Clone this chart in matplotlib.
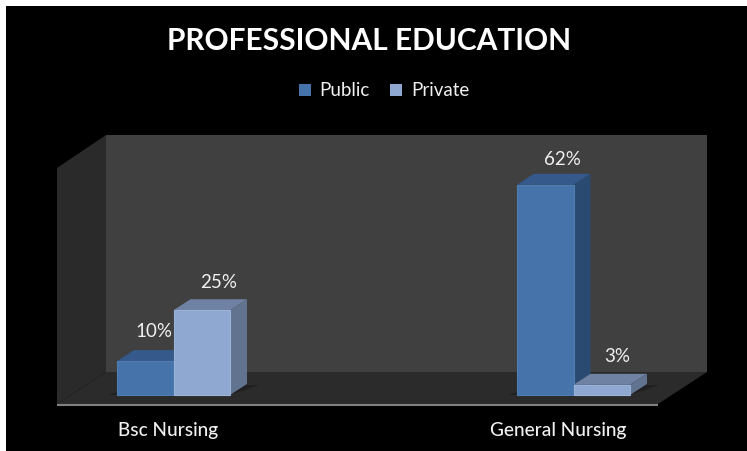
import matplotlib
matplotlib.use("Agg")
import matplotlib.pyplot as plt
from matplotlib.patches import Polygon, Patch

categories = ["Bsc Nursing", "General Nursing"]
public = [10, 62]
private = [25, 3]
series_names = ["Public", "Private"]
title = "PROFESSIONAL EDUCATION"

W, H = 747, 451
plt.rcParams['font.family'] = ['Lato', 'DejaVu Sans']
fig = plt.figure(figsize=(W/100, H/100), dpi=100, facecolor='white')

bg = fig.add_axes([0, 0, 1, 1])
bg.set_xlim(0, W); bg.set_ylim(H, 0); bg.axis('off')
bg.add_patch(plt.Rectangle((6, 6), W-6, H-6, fc='black', ec='none'))
bg.add_patch(Polygon([(106, 135), (707, 135), (707, 372), (106, 372)], fc='#404040', ec='none'))
bg.add_patch(Polygon([(57, 168), (106, 135), (106, 372), (57, 404)], fc='#2a2a2a', ec='none'))
bg.add_patch(Polygon([(57, 404), (106, 372), (707, 372), (658, 404)], fc='#2b2b2b', ec='none'))
bg.plot([57, 658], [404.5, 404.5], color='#808080', lw=1.5, solid_capstyle='butt')

x0_px, x1_px = 57, 658
ytop_px, ybot_px = 135, 404
px_per_unit = 400.0
px_per_pct = 3.39
ax = fig.add_axes([x0_px/W, 1-ybot_px/H, (x1_px-x0_px)/W, (ybot_px-ytop_px)/H])
ax.patch.set_alpha(0)
ax.set_xlim((x0_px-173.5)/px_per_unit, (x1_px-173.5)/px_per_unit)
ax.set_ylim((395-ybot_px)/px_per_pct, (395-ytop_px)/px_per_pct)
ax.axis('off')

bw = 56.5/px_per_unit
dx = 17/px_per_unit
dy = 11/px_per_pct
styles = [dict(front='#4674aa', top='#35598a', side='#2b4a72', edge='#4f7db3'),
          dict(front='#8fa8d2', top='#6f82a3', side='#627390', edge='#9ab1d8')]
# label offsets from the top centre of each bar, in pixels
label_offsets = [[(9, 24), (17, 20)], [(17, 22), (15, 23)]]

for k, vals in enumerate([public, private]):
    for i, v in enumerate(vals):
        xl = i - bw if k == 0 else i
        xr = xl + bw
        ax.add_patch(Polygon([(xl-0.02, 0), (xr, 0), (xr+dx+0.03, dy*0.9), (xl+dx, dy*0.9)],
                             fc='#202020', ec='none', zorder=1))
for k, vals in enumerate([public, private]):
    st = styles[k]
    for i, v in enumerate(vals):
        xl = i - bw if k == 0 else i
        xr = xl + bw
        ax.add_patch(Polygon([(xl, v), (xr, v), (xr+dx, v+dy), (xl+dx, v+dy)],
                             fc=st['top'], ec='none', zorder=2+k))
        ax.add_patch(Polygon([(xr, 0), (xr+dx, dy), (xr+dx, v+dy), (xr, v)],
                             fc=st['side'], ec='none', zorder=2+k))
        ax.bar(xl, v, width=bw, align='edge', color=st['front'], edgecolor=st['edge'],
               linewidth=0.8, zorder=3+k)
        lx, ly = label_offsets[k][i]
        ax.annotate(f"{v}%", xy=(xl + bw/2, v), xytext=(lx, ly), textcoords='offset pixels',
                    ha='center', va='baseline', color='#f0f0f0', fontsize=13.5, zorder=6,
                    annotation_clip=False)

label_off = [-5, -15.5]
for i, c in enumerate(categories):
    ax.annotate(c, xy=(i, 0), xytext=(label_off[i], -41), textcoords='offset pixels',
                ha='center', va='baseline', color='#f0f0f0', fontsize=13.7, fontweight='medium',
                annotation_clip=False)

fig.text(369/W, 1-41/H, title, ha='center', va='center', color='white',
         fontsize=21.5, fontweight='bold')

handles = [Patch(fc=styles[0]['front'], ec='none', label=series_names[0]),
           Patch(fc=styles[1]['front'], ec='none', label=series_names[1])]
leg = fig.legend(handles=handles, loc='center', bbox_to_anchor=(384/W, 1-91/H), ncol=2, frameon=False,
                 fontsize=13.5, labelcolor='#f0f0f0', handlelength=0.65, handleheight=0.65,
                 handletextpad=0.45, columnspacing=1.1)

fig.savefig("out.png", dpi=100, facecolor=fig.get_facecolor())
